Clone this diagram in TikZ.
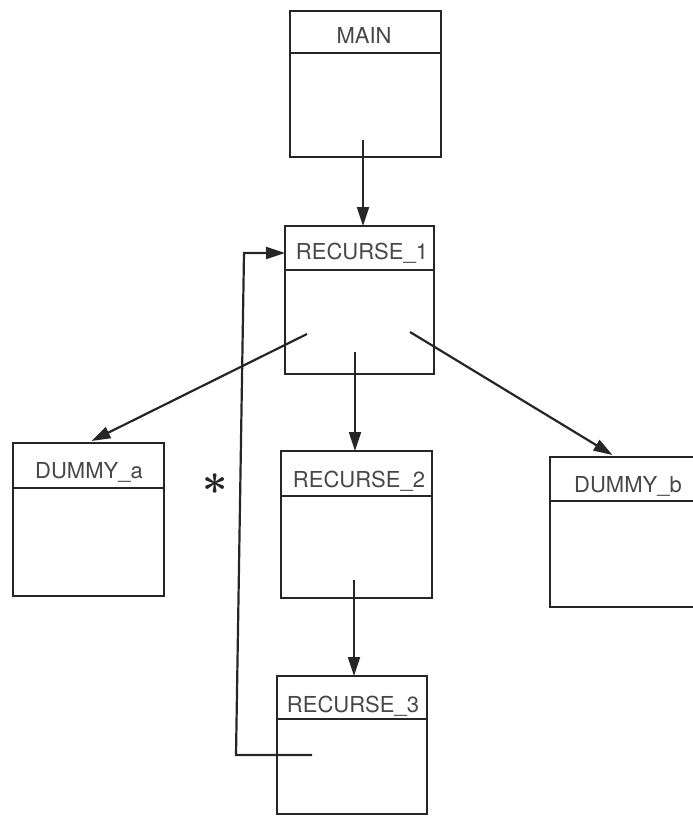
\documentclass[tikz,border=0pt]{standalone}
\usepackage{fontspec}
\setmainfont{TeX Gyre Heros}
\usetikzlibrary{arrows.meta}
\definecolor{ink}{HTML}{262626}
\begin{document}
\begin{tikzpicture}[x=1pt,y=-1pt,
  box/.style={draw=ink, line width=2.2pt, rectangle, inner sep=0pt, outer sep=0pt, anchor=north west},
  divider/.style={draw=ink, line width=2.2pt},
  title/.style={text=ink!85, font=\fontsize{22}{25}\selectfont, inner sep=0pt, anchor=base},
  link/.style={draw=ink, line width=2.2pt, -{Triangle[length=19pt,width=12pt]}},
  wire/.style={draw=ink, line width=2.2pt}]
\useasboundingbox (0,0) rectangle (693,819);

% module boxes: outline, header divider, name
\node[box, minimum width=151pt, minimum height=146pt] (main) at (290,11) {};
\draw[divider] ([yshift=-42pt]main.north west) -- ([yshift=-42pt]main.north east);
\node[title] (mainT) at (364,43) {MAIN};

\node[box, minimum width=149pt, minimum height=148pt] (rec1) at (285,226) {};
\draw[divider] ([yshift=-44pt]rec1.north west) -- ([yshift=-44pt]rec1.north east);
\node[title] (rec1T) at (362,259) {RECURSE\_1};

\node[box, minimum width=151pt, minimum height=153pt] (dumA) at (13,443) {};
\draw[divider] ([yshift=-45pt]dumA.north west) -- ([yshift=-45pt]dumA.north east);
\node[title] (dumAT) at (89,478) {DUMMY\_a};

\node[box, minimum width=151pt, minimum height=147pt] (rec2) at (281,451) {};
\draw[divider] ([yshift=-45pt]rec2.north west) -- ([yshift=-45pt]rec2.north east);
\node[title] (rec2T) at (359,487) {RECURSE\_2};

\node[box, minimum width=151pt, minimum height=150pt] (dumB) at (550,457) {};
\draw[divider] ([yshift=-44pt]dumB.north west) -- ([yshift=-44pt]dumB.north east);
\node[title] (dumBT) at (628,492) {DUMMY\_b};

\node[box, minimum width=150pt, minimum height=138pt] (rec3) at (277,676) {};
\draw[divider] ([yshift=-43pt]rec3.north west) -- ([yshift=-43pt]rec3.north east);
\node[title] (rec3T) at (353,712) {RECURSE\_3};

% start points of the calls, inside the caller boxes
\coordinate (fromMain) at (363,140);
\coordinate (toA) at (307,334);
\coordinate (toR2) at (355,352);
\coordinate (toB) at (410,332);
\coordinate (fromR2) at (354,580);
\coordinate (fromR3) at (312,755);
\coordinate (loopLow) at (236,755);
\coordinate (loopHigh) at (244,253);

% calls
\draw[link] (fromMain) -- (fromMain |- rec1.north);
\draw[link] (toA) -- ([xshift=3pt,yshift=2pt]dumA.north);
\draw[link] (toR2) -- (toR2 |- rec2.north);
\draw[link] (toB) -- ([xshift=-13pt,yshift=2pt]dumB.north);
\draw[link] (fromR2) -- (fromR2 |- rec3.north);

% recursive call back to the first level
\draw[link] (fromR3) -- (loopLow) -- (loopHigh) -- (loopHigh -| rec1.west);
\node[scale=4.4, text=ink, font=\boldmath] (star) at (215,484) {$\ast$};
\end{tikzpicture}
\end{document}
